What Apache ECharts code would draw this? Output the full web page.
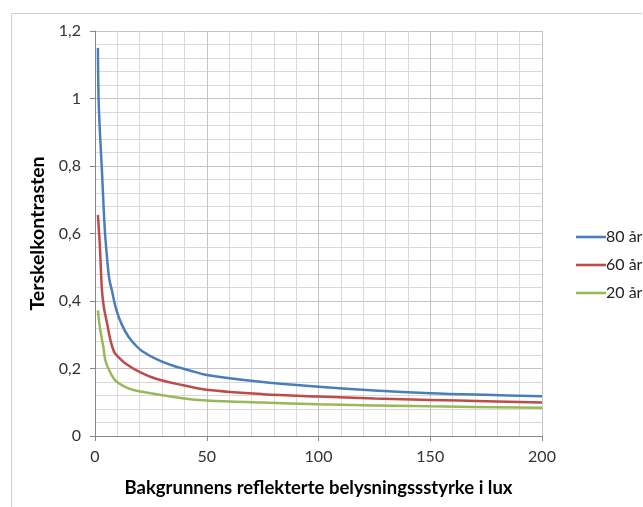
<!DOCTYPE html>
<html>
<head>
<meta charset="utf-8">
<script src="https://cdn.jsdelivr.net/npm/echarts@6/dist/echarts.min.js"></script>
<style>
html,body{margin:0;padding:0;background:#fff;}
#c{width:643px;height:507px;}
</style>
</head>
<body>
<div id="c"></div>
<script>
var seriesNames = ['80 år', '60 år', '20 år'];
var seriesColors = ['#4A7EBB', '#BE4B48', '#98B954'];
var age80 = [[1.3,1.15],[1.6,1.0],[2.2,0.9],[3,0.8],[3.7,0.7],[4.5,0.6],[5.5,0.52],[6.4,0.465],[7.6,0.43],[9.5,0.375],[12,0.33],[15,0.294],[18,0.27],[21,0.252],[28,0.226],[35,0.208],[42,0.195],[50,0.181],[75,0.16],[100,0.146],[125,0.135],[150,0.127],[175,0.122],[200,0.118]];
var age60 = [[1.3,0.655],[2.2,0.56],[3.1,0.433],[4,0.38],[5.4,0.334],[6.9,0.284],[8.5,0.25],[10,0.237],[13.6,0.215],[21,0.186],[28,0.168],[39,0.151],[50,0.137],[75,0.124],[100,0.117],[125,0.111],[150,0.107],[175,0.103],[200,0.099]];
var age20 = [[1.3,0.372],[2,0.33],[3,0.29],[3.7,0.265],[4.6,0.225],[6,0.2],[9.1,0.165],[15,0.141],[21,0.131],[39,0.112],[50,0.105],[75,0.099],[100,0.094],[150,0.088],[200,0.084]];
var xTicks = [0, 50, 100, 150, 200];
var yTicks = [0, 0.2, 0.4, 0.6, 0.8, 1, 1.2];
var xTitle = 'Bakgrunnens reflekterte belysningssstyrke i lux';
var yTitle = 'Terskelkontrasten';

var chart = echarts.init(document.getElementById('c'), null, {renderer:'canvas'});
var FONT = 'Lato';
var dataSets = [age80, age60, age20];
chart.setOption({
  animation: false,
  backgroundColor: '#fff',
  textStyle: {fontFamily: FONT},
  graphic: [
    {type:'line', shape:{x1:11.5,y1:13.5,x2:642,y2:13.5}, style:{stroke:'#d0d0d0',lineWidth:1}},
    {type:'line', shape:{x1:11.5,y1:13.5,x2:11.5,y2:507}, style:{stroke:'#d0d0d0',lineWidth:1}}
  ],
  grid: {left:95, right:101, top:31, bottom:71, containLabel:false},
  legend: {
    orient:'vertical', left:571, top:224, itemWidth:30, itemHeight:14, itemGap:12,
    data: seriesNames, icon:'path://M0,6 L29,6 L29,8.5 L0,8.5 Z',
    textStyle:{fontFamily:FONT, fontSize:16, color:'#222', padding:[0,0,0,-5]}
  },
  xAxis: {
    type:'value', min:xTicks[0], max:xTicks[xTicks.length-1], interval:50,
    name:xTitle, nameLocation:'middle', nameGap:43,
    nameTextStyle:{fontFamily:FONT, fontSize:18.5, fontWeight:'bold', color:'#000'},
    axisLine:{show:true, lineStyle:{color:'#888', width:1}},
    axisTick:{show:true, length:5, lineStyle:{color:'#888'}},
    axisLabel:{fontFamily:FONT, fontSize:16, color:'#333', margin:13},
    splitLine:{show:true, lineStyle:{color:'#c4c4c4', width:1}},
    minorTick:{show:false, splitNumber:5},
    minorSplitLine:{show:true, lineStyle:{color:'#d9d9d9', width:1}}
  },
  yAxis: {
    type:'value', min:yTicks[0], max:yTicks[yTicks.length-1], interval:0.2,
    name:yTitle, nameLocation:'middle', nameGap:40, nameRotate:90,
    nameTextStyle:{fontFamily:FONT, fontSize:19.5, fontWeight:'bold', color:'#000'},
    axisLine:{show:true, lineStyle:{color:'#888', width:1}},
    axisTick:{show:true, length:5, lineStyle:{color:'#888'}},
    axisLabel:{fontFamily:FONT, fontSize:16, color:'#333', margin:14,
      formatter:function(v){return String(Math.round(v*10)/10).replace('.', ',');}},
    splitLine:{show:true, lineStyle:{color:'#c4c4c4', width:1}},
    minorTick:{show:false, splitNumber:5},
    minorSplitLine:{show:true, lineStyle:{color:'#d9d9d9', width:1}}
  },
  series: seriesNames.map(function(n,i){
    return {
      name:n, type:'line', data:dataSets[i], smooth:0.35, symbol:'none',
      lineStyle:{color:seriesColors[i], width:2.5},
      itemStyle:{color:seriesColors[i]}
    };
  })
});
</script>
</body>
</html>
